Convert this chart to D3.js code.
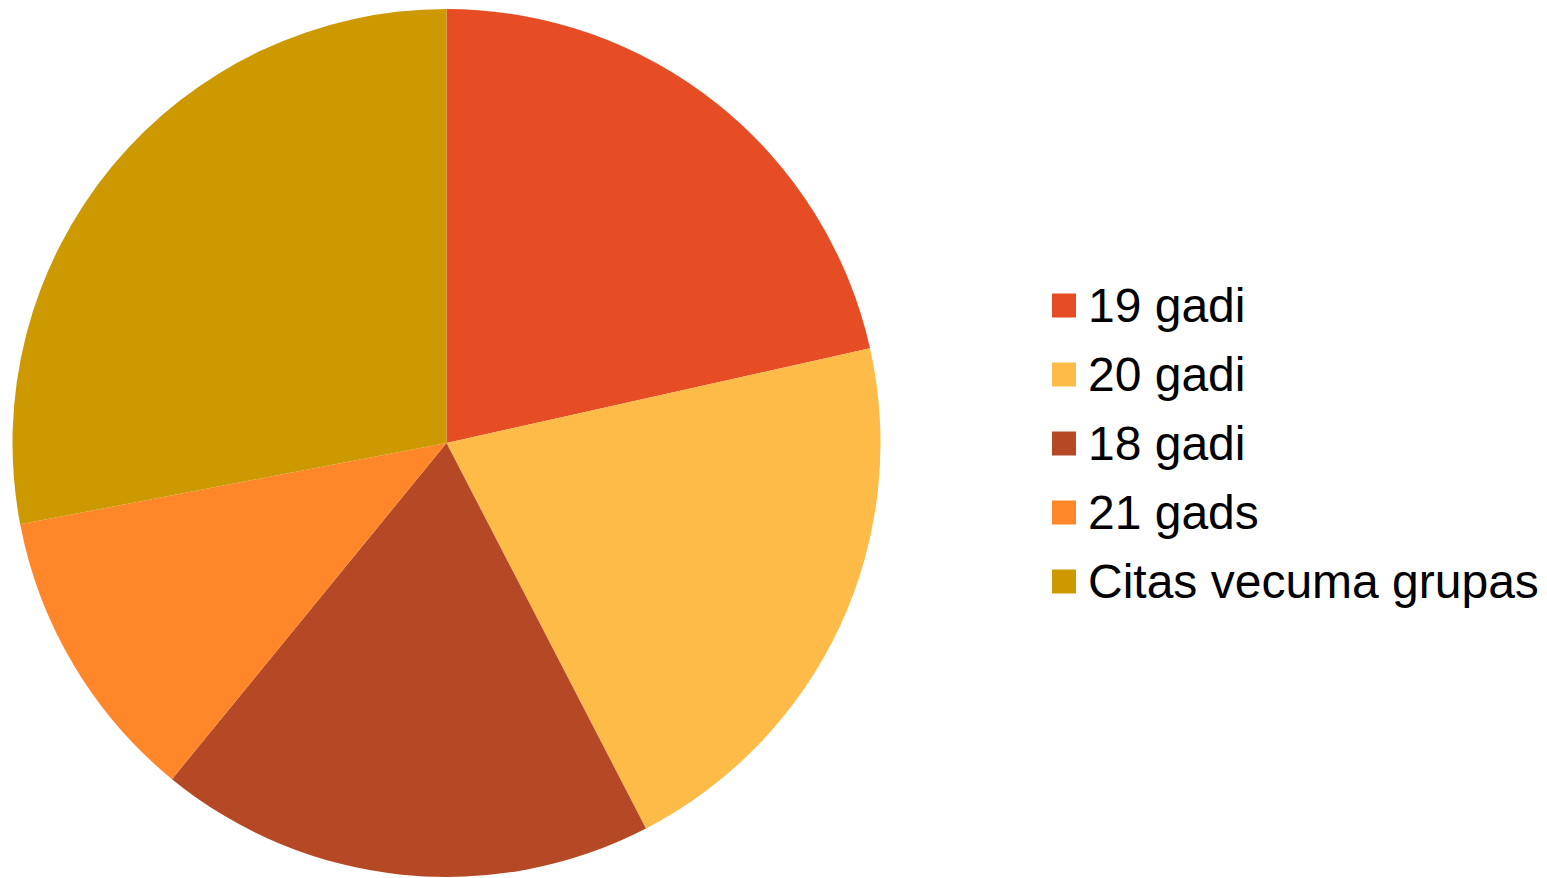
<!DOCTYPE html>
<html><head><meta charset="utf-8">
<script src="https://cdn.jsdelivr.net/npm/d3@7"></script>
<style>html,body{margin:0;padding:0;background:#fff;overflow:hidden}</style>
</head><body>
<svg id="c" width="1547" height="878"></svg>
<script>
const categories = ["19 gadi", "20 gadi", "18 gadi", "21 gads", "Citas vecuma grupas"];
const values = [21.5, 20.9, 18.5, 11.1, 28.0];
const colors = ["#E64D25", "#FFBB47", "#B54926", "#FF8629", "#CC9900"];

const svg = d3.select("#c");
const cx = 446.5, cy = 443, r = 434;
const data = categories.map((c, i) => ({name: c, value: values[i], color: colors[i]}));
const pie = d3.pie().value(d => d.value).sort(null);
const arc = d3.arc().innerRadius(0).outerRadius(r);
const g = svg.append("g").attr("transform", `translate(${cx},${cy})`);
g.selectAll("path").data(pie(data)).join("path")
  .attr("d", arc).attr("fill", d => d.data.color);

const leg = svg.append("g").attr("transform", "translate(1052,0)");
const y = d3.scaleBand().domain(categories).range([271, 616]);
const items = leg.selectAll("g").data(data).join("g")
  .attr("transform", d => `translate(0,${y(d.name) + y.bandwidth()/2})`);
items.append("rect").attr("x", 0).attr("y", -12).attr("width", 24).attr("height", 24).attr("fill", d => d.color);
items.append("text").attr("x", 36).attr("y", 16)
  .attr("font-family", "'Liberation Sans', Arial, sans-serif").attr("font-size", 48)
  .attr("fill", "#000").text(d => d.name);
</script>
</body></html>
